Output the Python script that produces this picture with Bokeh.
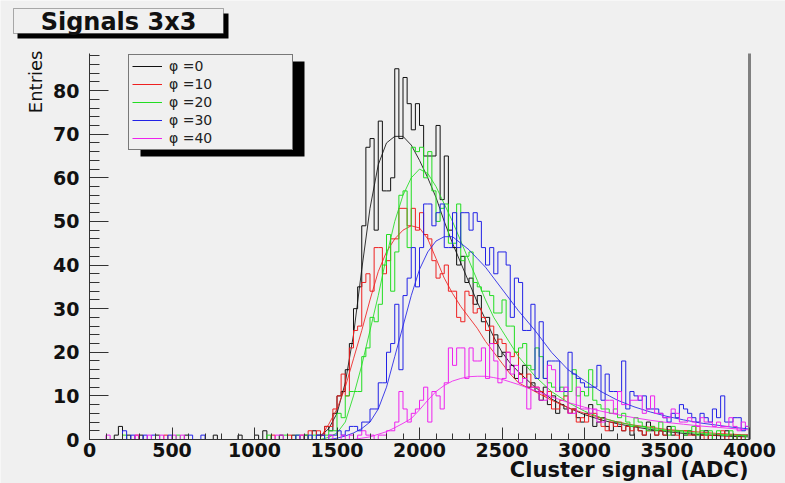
import math
from bokeh.plotting import figure
from bokeh.models import (Range1d, SingleIntervalTicker, Label, BoxAnnotation,
                          Legend, LegendItem, ColumnDataSource)
from bokeh.embed import file_html
from bokeh.resources import INLINE

# ---------------- data ----------------
BIN_WIDTH = 25
X_MAX = 4000
Y_MAX = 88.5

series_labels = ["\u03c6 =0", "\u03c6 =10", "\u03c6 =20", "\u03c6 =30", "\u03c6 =40"]
series_colors = ["#111111", "#ee2020", "#22dd22", "#2222e6", "#ee22ee"]

# bins 0 .. 1375 (sparse noise)
black_low = [0, 0, 0, 0, 0, 0, 1, 3,
             0, 1, 0, 0, 1, 0, 0, 0,
             1, 0, 0, 0, 0, 0, 0, 1,
             0, 0, 0, 0, 0, 0, 1, 0,
             0, 0, 0, 0, 1, 0, 0, 0,
             1, 0, 2, 0, 0, 0, 1, 0,
             0, 1, 0, 0, 1, 0, 2, 1]
red_low = [0, 0, 0, 0, 0, 0, 0, 0,
           0, 0, 0, 1, 0, 0, 0, 0,
           0, 0, 1, 0, 0, 0, 0, 0,
           0, 0, 0, 0, 0, 0, 0, 0,
           0, 0, 0, 0, 0, 0, 0, 0,
           0, 0, 0, 0, 1, 0, 0, 0,
           1, 0, 0, 1, 0, 2, 0, 2]
green_low = [0, 0, 0, 0, 0, 0, 0, 0,
             1, 0, 0, 0, 0, 0, 0, 0,
             0, 0, 0, 0, 0, 1, 0, 0,
             0, 0, 0, 0, 0, 0, 0, 0,
             0, 0, 0, 0, 0, 0, 0, 0,
             0, 0, 0, 1, 0, 0, 0, 1,
             0, 0, 1, 0, 1, 0, 1, 0]
blue_low = [0, 0, 0, 0, 0, 0, 0, 0,
            2, 0, 1, 0, 0, 1, 0, 1,
            0, 0, 0, 1, 0, 0, 0, 0,
            1, 0, 0, 1, 0, 0, 0, 0,
            0, 0, 0, 0, 0, 0, 0, 0,
            0, 0, 0, 0, 0, 0, 0, 0,
            0, 0, 1, 0, 0, 1, 0, 1]
magenta_low = [0, 0, 0, 0, 1, 0, 0, 0,
               0, 0, 0, 1, 0, 0, 1, 0,
               0, 1, 0, 0, 1, 0, 1, 0,
               0, 0, 0, 0, 0, 0, 0, 0,
               0, 0, 0, 0, 0, 0, 0, 0,
               0, 0, 0, 0, 0, 1, 1, 0,
               0, 0, 0, 1, 0, 0, 0, 0]

# bins 1400 .. 3975
black_main = [1, 3, 2, 6, 10, 11, 16, 22,
              30, 35, 49, 67, 69, 48, 73, 57,
              57, 60, 85, 69, 83, 77, 71, 77,
              72, 65, 65, 65, 72, 55, 65, 48,
              44, 40, 42, 36, 37, 31, 33, 27,
              28, 22, 24, 19, 20, 16, 17, 14,
              15, 17, 12, 13, 11, 9, 12, 8,
              10, 6, 8, 7, 6, 7, 5, 4,
              6, 8, 3, 4, 5, 3, 2, 4,
              3, 2, 3, 1, 3, 2, 1, 4,
              2, 1, 2, 1, 3, 1, 2, 0,
              1, 2, 1, 0, 1, 2, 0, 1,
              1, 0, 2, 1, 0, 1, 0, 1]
red_main = [1, 3, 3, 7, 10, 15, 10, 21,
            25, 26, 36, 38, 34, 44, 44, 38,
            41, 46, 46, 53, 53, 49, 53, 48,
            52, 47, 46, 41, 37, 38, 40, 34,
            34, 28, 27, 34, 33, 29, 30, 28,
            25, 26, 22, 23, 22, 20, 19, 20,
            15, 14, 15, 12, 12, 11, 10, 11,
            7, 7, 9, 10, 6, 7, 4, 5,
            4, 6, 6, 5, 3, 2, 4, 3,
            4, 2, 3, 2, 3, 2, 1, 2,
            3, 1, 2, 1, 2, 2, 1, 0,
            2, 1, 1, 3, 1, 0, 1, 1,
            1, 2, 0, 1, 1, 0, 1, 0]
green_main = [0, 1, 2, 2, 6, 5, 10, 11,
              11, 11, 19, 21, 28, 27, 31, 40,
              47, 34, 43, 56, 57, 44, 67, 66,
              67, 60, 66, 57, 50, 53, 54, 45,
              45, 54, 41, 42, 43, 36, 35, 34,
              34, 33, 29, 29, 32, 26, 26, 20,
              21, 22, 17, 16, 21, 19, 14, 13,
              12, 11, 12, 10, 11, 16, 10, 11,
              10, 16, 9, 8, 7, 7, 6, 7,
              5, 6, 4, 3, 5, 4, 3, 2,
              3, 2, 4, 2, 1, 3, 2, 2,
              1, 2, 3, 1, 2, 1, 2, 0,
              2, 1, 1, 2, 0, 1, 1, 0]
blue_main = [1, 0, 1, 1, 2, 1, 2, 3,
             3, 2, 4, 4, 7, 7, 13, 13,
             20, 22, 31, 16, 33, 37, 44, 35,
             44, 54, 54, 49, 52, 54, 44, 44,
             52, 44, 52, 52, 48, 52, 50, 44,
             40, 44, 38, 43, 43, 40, 28, 37,
             36, 25, 25, 31, 14, 27, 14, 18,
             18, 18, 11, 11, 20, 15, 14, 13,
             12, 12, 12, 17, 9, 15, 11, 11,
             11, 18, 7, 11, 10, 9, 10, 7,
             7, 7, 6, 5, 4, 6, 5, 8,
             7, 6, 5, 4, 6, 5, 4, 7,
             5, 10, 4, 4, 5, 5, 2, 3]
magenta_main = [0, 0, 1, 0, 0, 1, 0, 1,
                0, 1, 2, 1, 1, 0, 1, 1,
                2, 2, 4, 11, 7, 4, 6, 7,
                9, 12, 4, 11, 10, 7, 13, 21,
                17, 21, 21, 14, 21, 18, 18, 21,
                14, 22, 18, 13, 14, 20, 15, 17,
                13, 14, 7, 12, 12, 9, 9, 17,
                16, 11, 11, 12, 6, 6, 12, 7,
                7, 6, 7, 4, 4, 9, 9, 6,
                11, 8, 8, 9, 9, 10, 6, 7,
                10, 6, 6, 5, 5, 7, 6, 4,
                4, 5, 4, 3, 5, 4, 4, 3,
                4, 3, 3, 5, 3, 2, 4, 3]

# fitted curves
fit_x = [1400, 1450, 1500, 1550, 1600, 1650, 1700, 1750, 1800, 1850, 1900, 1950,
         2000, 2050, 2100, 2150, 2200, 2250, 2300, 2350, 2400, 2450, 2500, 2550,
         2600, 2700, 2800, 2900, 3000, 3100, 3200, 3300, 3400, 3500, 3600, 3700,
         3800, 3900, 4000]
fit_black = [0.8, 2.5, 6, 13, 24, 39, 53, 63, 68, 69.5, 69.5, 67.5,
             64, 60, 55.5, 50, 45, 40.5, 36, 31.5, 27.5, 23.5, 20, 17.5,
             15.5, 12, 9.3, 7.3, 5.7, 4.5, 3.6, 2.9, 2.3, 1.8, 1.4, 1.1,
             0.9, 0.7, 0.6]
fit_red = [0.5, 3.5, 7, 12, 18.5, 25, 32, 38.5, 43, 46, 48, 49,
           48.5, 46, 41.5, 37, 33.5, 30.5, 28, 25.5, 22.5, 20, 17.5, 15,
           13, 11, 9, 7.3, 6, 5, 4, 3.3, 2.8, 2.3, 2, 1.7,
           1.4, 1.2, 1]
fit_green = [0, 0.5, 1.5, 4, 10, 17, 25, 33, 42, 50, 56, 60,
             62, 61, 58, 54, 50, 45.5, 41, 36.5, 32, 28, 25, 22,
             19, 14.5, 11, 8.5, 6.5, 5, 4, 3.2, 2.6, 2.1, 1.7, 1.4,
             1.2, 1, 0.8]
fit_blue = [0, 0, 0.3, 0.8, 1.5, 2.5, 4, 7, 12, 19, 26, 33,
            39, 43, 45.5, 46.5, 46.5, 45, 43.5, 41.5, 39.5, 37, 34.5, 32,
            29.5, 25, 20, 16, 13.5, 11, 9, 7.5, 6.3, 5.3, 4.5, 3.8,
            3.3, 2.8, 2.4]
fit_magenta = [0, 0, 0, 0, 0, 0.3, 0.6, 1.2, 1.8, 2.7, 3.7, 4.8,
               6.8, 9, 11, 12.4, 13.4, 14, 14.4, 14.5, 14.5, 14.2, 13.8, 13.2,
               12.6, 11.2, 9.8, 8.5, 7.4, 6.5, 5.7, 5, 4.4, 3.9, 3.5, 3.1,
               2.8, 2.5, 2.2]

lows = [black_low, red_low, green_low, blue_low, magenta_low]
mains = [black_main, red_main, green_main, blue_main, magenta_main]
fits = [fit_black, fit_red, fit_green, fit_blue, fit_magenta]

# ---------------- layout geometry (pixels) ----------------
W, H = 785, 483
FR_L, FR_R, FR_T, FR_B = 89, 749, 53, 439      # plotting frame of the histogram
BG = "#f0f0f0"
FONT = "DejaVu Sans"

# the whole canvas is the bokeh frame; axes are fixed at x=0 / y=0
sx = (FR_R - FR_L) / X_MAX
sy = (FR_B - FR_T) / Y_MAX
x_start = -FR_L / sx
x_end = (W - FR_L) / sx
y_start = -(H - FR_B) / sy
y_end = FR_B / sy

p = figure(width=W, height=H, x_range=Range1d(x_start, x_end), y_range=Range1d(y_start, y_end),
           output_backend="svg", toolbar_location=None,
           min_border_left=0, min_border_right=0, min_border_top=0, min_border_bottom=0,
           background_fill_color=BG, border_fill_color=BG, outline_line_color=None)
p.grid.visible = False

n_bins = X_MAX // BIN_WIDTH
edges = [i * BIN_WIDTH for i in range(n_bins + 1)]

hist_renderers = []
for low, main, fit, col in zip(lows, mains, fits, series_colors):
    counts = list(low) + list(main)
    counts = (counts + [0] * n_bins)[:n_bins]
    ys = counts + [counts[-1]]
    src = ColumnDataSource(dict(x=edges, y=ys))
    r = p.step(x="x", y="y", source=src, mode="after", line_color=col, line_width=1)
    hist_renderers.append(r)
    start = 0
    while start < len(fit) - 1 and fit[start + 1] == 0:
        start += 1
    p.line(fit_x[start:], fit[start:], line_color=col, line_width=1, line_alpha=0.85)

# frame right border (grey, ROOT style)
p.segment(x0=[X_MAX], y0=[0], x1=[X_MAX], y1=[Y_MAX], line_color="#808080", line_width=3)

# axes (fixed inside the canvas)
xa = p.xaxis[0]
ya = p.yaxis[0]
xa.fixed_location = 0
ya.fixed_location = 0
xa.bounds = (0, X_MAX)
ya.bounds = (0, Y_MAX)
xa.ticker = SingleIntervalTicker(interval=500, num_minor_ticks=5)
ya.ticker = SingleIntervalTicker(interval=10, num_minor_ticks=5)
for ax in (xa, ya):
    ax.axis_line_color = "#333333"
    ax.major_tick_line_color = "#333333"
    ax.minor_tick_line_color = "#333333"
    ax.major_tick_out = 0
    ax.minor_tick_out = 0
    ax.major_label_text_font = FONT
    ax.major_label_text_font_style = "bold"
    ax.major_label_text_color = "#111111"
xa.major_tick_in = 12
xa.minor_tick_in = 6
ya.major_tick_in = 19
ya.minor_tick_in = 10
xa.major_label_text_font_size = "19px"
ya.major_label_text_font_size = "19px"
xa.major_label_standoff = 3
ya.major_label_standoff = 10

# axis titles
p.add_layout(Label(x=748, y=469, x_units="canvas", y_units="canvas", text="Cluster signal (ADC)",
                   text_align="right", text_baseline="middle", text_font=FONT,
                   text_font_style="bold", text_font_size="21px", text_color="#111111"))
p.add_layout(Label(x=35, y=50, x_units="canvas", y_units="canvas", text="Entries",
                   angle=math.pi / 2, text_align="right", text_baseline="middle",
                   text_font=FONT, text_font_size="18px", text_color="#111111"))

# title box with shadow
p.add_layout(BoxAnnotation(left=17, right=228, top=13, bottom=38,
                           left_units="canvas", right_units="canvas",
                           top_units="canvas", bottom_units="canvas",
                           fill_color="black", fill_alpha=1, line_color=None))
p.add_layout(BoxAnnotation(left=13, right=223, top=8, bottom=33,
                           left_units="canvas", right_units="canvas",
                           top_units="canvas", bottom_units="canvas",
                           fill_color=BG, fill_alpha=1, line_color="black", line_width=1))
p.add_layout(Label(x=118, y=21, x_units="canvas", y_units="canvas", text="Signals 3x3",
                   text_align="center", text_baseline="middle", text_font=FONT,
                   text_font_style="bold", text_font_size="24px", text_color="#111111"))

# legend shadow + legend
p.add_layout(BoxAnnotation(left=140, right=304, top=61, bottom=156,
                           left_units="canvas", right_units="canvas",
                           top_units="canvas", bottom_units="canvas",
                           fill_color="black", fill_alpha=1, line_color=None))
items = [LegendItem(label=lab, renderers=[r]) for lab, r in zip(series_labels, hist_renderers)]
legend = Legend(items=items, location=(128, H - 150), margin=0, padding=3, spacing=2,
                glyph_width=30, glyph_height=14, label_height=14, label_width=120,
                label_standoff=7, label_text_font=FONT, label_text_font_size="14px",
                label_text_color="#222222",
                border_line_color="black", border_line_width=1,
                background_fill_color=BG, background_fill_alpha=1)
p.add_layout(legend)

open("out.html", "w").write(file_html(p, INLINE))
